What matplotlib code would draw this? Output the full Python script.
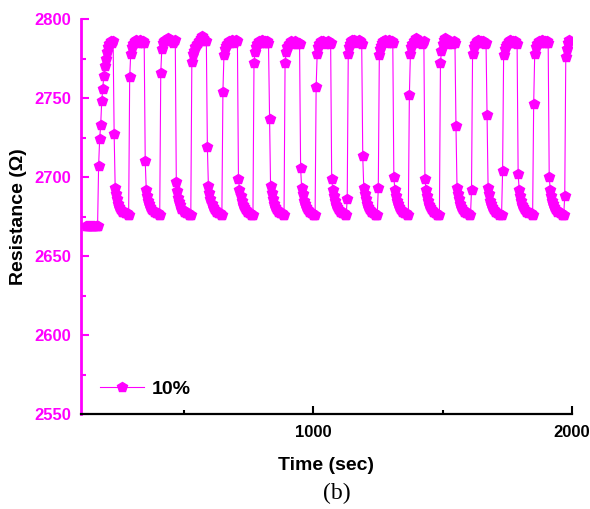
import numpy as np
import matplotlib
matplotlib.use("Agg")
import matplotlib.pyplot as plt
from matplotlib.ticker import MultipleLocator

# sampling of the recorded trace (sec)
t_start = 124
t_step = 4

# resistance (ohm), one list per gas-on / gas-off half cycle
baseline = [2669, 2669, 2669, 2669, 2669, 2669, 2669, 2669, 2669, 2669, 2669, 2669]
high_01 = [2707, 2724, 2733, 2748, 2756, 2764, 2770, 2775, 2779, 2782, 2784, 2785, 2786, 2785, 2786]
low_01 = [2727, 2693, 2689, 2686, 2683, 2681, 2680, 2679, 2678, 2678, 2677, 2677, 2677, 2676, 2676]
high_02 = [2763, 2778, 2782, 2784, 2785, 2786, 2787, 2786, 2785, 2786, 2787, 2786, 2785, 2786, 2785]
low_02 = [2710, 2692, 2688, 2685, 2683, 2681, 2680, 2679, 2678, 2678, 2677, 2677, 2677, 2676, 2676]
high_03 = [2766, 2781, 2785, 2786, 2787, 2786, 2787, 2788, 2787, 2786, 2787, 2786, 2785, 2786, 2787]
low_03 = [2697, 2691, 2687, 2684, 2682, 2680, 2679, 2678, 2678, 2677, 2677, 2677, 2676, 2676, 2676]
high_04 = [2773, 2778, 2780, 2782, 2783, 2784, 2785, 2786, 2787, 2788, 2789, 2788, 2787, 2786, 2786]
low_04 = [2719, 2694, 2690, 2686, 2683, 2681, 2680, 2679, 2678, 2678, 2677, 2677, 2677, 2676, 2676]
high_05 = [2754, 2777, 2781, 2783, 2784, 2785, 2786, 2785, 2786, 2787, 2786, 2785, 2786, 2787, 2786]
low_05 = [2699, 2692, 2688, 2685, 2682, 2681, 2680, 2679, 2678, 2678, 2677, 2677, 2676, 2676, 2676]
high_06 = [2772, 2779, 2782, 2784, 2785, 2786, 2785, 2786, 2787, 2786, 2785, 2786, 2785, 2786, 2785]
low_06 = [2737, 2694, 2690, 2686, 2683, 2681, 2680, 2679, 2678, 2678, 2677, 2677, 2677, 2676, 2676]
high_07 = [2772, 2779, 2782, 2783, 2784, 2785, 2786, 2785, 2784, 2785, 2786, 2785, 2784, 2785, 2784]
low_07 = [2706, 2693, 2689, 2685, 2683, 2681, 2680, 2679, 2678, 2678, 2677, 2677, 2676, 2676, 2676]
high_08 = [2757, 2778, 2782, 2784, 2785, 2786, 2785, 2786, 2785, 2784, 2785, 2786, 2785, 2784, 2785]
low_08 = [2699, 2692, 2688, 2685, 2682, 2681, 2680, 2679, 2678, 2678, 2677, 2677, 2677, 2676, 2676]
high_09 = [2686, 2778, 2782, 2784, 2786, 2787, 2786, 2787, 2786, 2785, 2786, 2787, 2786, 2785, 2784]
low_09 = [2713, 2693, 2689, 2686, 2683, 2681, 2680, 2679, 2678, 2678, 2677, 2677, 2676, 2676, 2676]
high_10 = [2693, 2777, 2781, 2783, 2785, 2786, 2787, 2786, 2785, 2786, 2787, 2786, 2785, 2786, 2785]
low_10 = [2700, 2692, 2688, 2685, 2683, 2681, 2680, 2679, 2678, 2678, 2677, 2677, 2677, 2676, 2676]
high_11 = [2752, 2778, 2782, 2784, 2786, 2787, 2788, 2787, 2786, 2785, 2786, 2785, 2784, 2785, 2786]
low_11 = [2699, 2692, 2688, 2685, 2682, 2681, 2680, 2679, 2678, 2678, 2677, 2677, 2676, 2676, 2676]
high_12 = [2772, 2780, 2784, 2787, 2788, 2787, 2785, 2784, 2785, 2786, 2785, 2784, 2785, 2786, 2785]
low_12 = [2732, 2693, 2689, 2686, 2683, 2681, 2680, 2679, 2678, 2678, 2677, 2677, 2677, 2676, 2676]
high_13 = [2692, 2778, 2782, 2784, 2785, 2786, 2787, 2786, 2785, 2786, 2785, 2786, 2785, 2784, 2785]
low_13 = [2739, 2693, 2689, 2685, 2683, 2681, 2680, 2679, 2678, 2678, 2677, 2677, 2676, 2676, 2676]
high_14 = [2704, 2777, 2781, 2783, 2784, 2785, 2786, 2787, 2786, 2785, 2786, 2785, 2786, 2785, 2784]
low_14 = [2702, 2692, 2688, 2685, 2682, 2681, 2680, 2679, 2678, 2678, 2677, 2677, 2677, 2676, 2676]
high_15 = [2746, 2778, 2782, 2784, 2785, 2786, 2785, 2786, 2787, 2786, 2785, 2786, 2785, 2786, 2785]
low_15 = [2700, 2692, 2688, 2685, 2683, 2681, 2680, 2679, 2678, 2678, 2677, 2677, 2676, 2676, 2676]
high_16 = [2688, 2776, 2781, 2785, 2787]

series_label = "10%"
x_ticks = [1000, 2000]
y_ticks = [2550, 2600, 2650, 2700, 2750, 2800]

resistance = (baseline + high_01 + low_01 + high_02 + low_02 + high_03 + low_03
              + high_04 + low_04 + high_05 + low_05 + high_06 + low_06
              + high_07 + low_07 + high_08 + low_08 + high_09 + low_09
              + high_10 + low_10 + high_11 + low_11 + high_12 + low_12
              + high_13 + low_13 + high_14 + low_14 + high_15 + low_15 + high_16)
time = t_start + t_step * np.arange(len(resistance))

mag = "#ff00ff"
plt.rcParams["font.family"] = ["Liberation Sans", "DejaVu Sans"]

fig = plt.figure(figsize=(5.9, 5.09), dpi=100)
ax = fig.add_axes([81 / 590, 1 - 414 / 509, 491 / 590, 395 / 509])

ax.plot(time, resistance, color=mag, lw=0.8, marker="p", ms=7.5,
        mfc=mag, mec=mag, label=series_label)

ax.set_xlim(104, 2000)
ax.set_ylim(2550, 2800)
ax.set_xticks(x_ticks)
ax.set_yticks(y_ticks)
ax.xaxis.set_minor_locator(MultipleLocator(500))
ax.yaxis.set_minor_locator(MultipleLocator(25))

for s in ["top", "right"]:
    ax.spines[s].set_visible(False)
ax.spines["left"].set_color(mag)
ax.spines["left"].set_linewidth(2)
ax.spines["bottom"].set_color("black")
ax.spines["bottom"].set_linewidth(1.6)

ax.tick_params(axis="y", which="both", direction="in", colors=mag, width=1.5, labelsize=12, pad=7)
ax.tick_params(axis="y", which="major", length=6)
ax.tick_params(axis="y", which="minor", length=3.5)
ax.tick_params(axis="x", which="both", direction="in", colors="black", width=1.5, labelsize=12, pad=8)
ax.tick_params(axis="x", which="major", length=6)
ax.tick_params(axis="x", which="minor", length=3)
for lab in ax.get_xticklabels() + ax.get_yticklabels():
    lab.set_fontweight("bold")

ax.set_xlabel("Time (sec)", fontsize=14, fontweight="bold", labelpad=12)
ax.set_ylabel("Resistance (\u03a9)", fontsize=14, fontweight="bold", labelpad=5)

leg = ax.legend(loc="lower left", bbox_to_anchor=(0.038, 0.04), frameon=False,
                handlelength=2.3, handletextpad=0.4, borderpad=0, borderaxespad=0,
                prop={"size": 14, "weight": "bold"})

fig.text(337 / 590, 1 - 493 / 509, "(b)", family="Liberation Serif", fontsize=17,
         ha="center", va="center")

fig.savefig("out.png", dpi=100)
